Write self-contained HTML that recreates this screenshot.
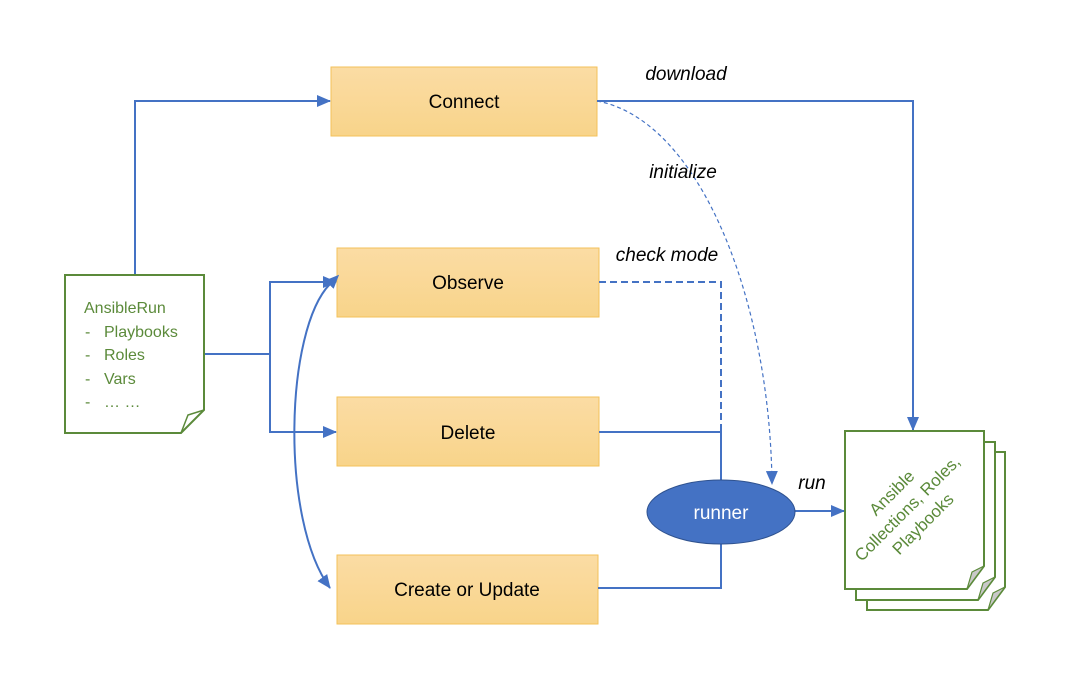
<!DOCTYPE html>
<html><head><style>body{margin:0;background:#fff}svg{display:block}</style></head><body>
<svg width="1066" height="694" viewBox="0 0 1066 694" xmlns="http://www.w3.org/2000/svg" font-family="Liberation Sans, sans-serif">
<defs>
<linearGradient id="g" x1="0" y1="0" x2="0" y2="1"><stop offset="0" stop-color="#fbdca4"/><stop offset="1" stop-color="#f8d48a"/></linearGradient>
<marker id="a" viewBox="0 0 14 12" refX="13" refY="6" markerWidth="14" markerHeight="12" markerUnits="userSpaceOnUse" orient="auto"><path d="M0,0L14,6L0,12z" fill="#4472c4"/></marker>
<marker id="as" viewBox="0 0 14 12" refX="1" refY="6" markerWidth="14" markerHeight="12" markerUnits="userSpaceOnUse" orient="auto-start-reverse"><path d="M0,0L14,6L0,12z" fill="#4472c4"/></marker>
</defs>
<g fill="url(#g)" stroke="#f3c15a" stroke-width="1">
<rect x="331" y="67" width="266" height="69"/>
<rect x="337" y="248" width="262" height="69"/>
<rect x="337" y="397" width="262" height="69"/>
<rect x="337" y="555" width="261" height="69"/>
</g>
<g font-size="19" text-anchor="middle" fill="#000">
<text x="464" y="108">Connect</text>
<text x="468" y="289">Observe</text>
<text x="468" y="439">Delete</text>
<text x="467" y="596">Create or Update</text>
</g>
<g stroke="#4472c4" stroke-width="2" fill="none">
<path d="M135,275V101H330" marker-end="url(#a)"/>
<path d="M204,354H270V282H336" marker-end="url(#a)"/>
<path d="M270,354V432H336" marker-end="url(#a)"/>
<path d="M597,101H913V430" marker-end="url(#a)"/>
<path d="M599,432H721V480"/>
<path d="M598,588H721V544"/>
<path d="M795,511H844" marker-end="url(#a)"/>
<path d="M330,284C285,330 280,520 330,588" marker-start="url(#as)" marker-end="url(#a)"/>
<path d="M599,282H721V480" stroke-dasharray="7,4"/>
<path d="M597,101C700,120 770,300 772,484" stroke-width="1.2" stroke-dasharray="4,3" marker-end="url(#a)"/>
</g>
<ellipse cx="721" cy="512" rx="74" ry="32" fill="#4472c4" stroke="#2f528f" stroke-width="1"/>
<text x="721" y="519" font-size="19" fill="#fff" text-anchor="middle">runner</text>
<g font-size="19" font-style="italic" fill="#000" text-anchor="middle">
<text x="686" y="80">download</text>
<text x="683" y="178">initialize</text>
<text x="667" y="261">check mode</text>
<text x="812" y="489">run</text>
</g>
<path d="M65,275H204V410L181,433H65Z" fill="#fff" stroke="#5b8a3a" stroke-width="2"/>
<path d="M181,433L188,415L204,410" fill="none" stroke="#5b8a3a" stroke-width="1.5"/>
<g font-size="16" fill="#5b8a3a">
<text x="84" y="313">AnsibleRun</text>
<text x="85" y="337">-</text><text x="104" y="337">Playbooks</text>
<text x="85" y="360">-</text><text x="104" y="360">Roles</text>
<text x="85" y="384">-</text><text x="104" y="384">Vars</text>
<text x="85" y="407">-</text><text x="104" y="407">… …</text>
</g>
<g stroke="#5b8a3a" stroke-width="2" fill="#fff">
<path d="M867,452H1005V587L988,610H867Z"/>
<path d="M856,442H995V577L978,600H856Z"/>
<path d="M845,431H984V566L967,589H845Z"/>
</g>
<g fill="#c8c8c8" stroke="#5b8a3a" stroke-width="1.2">
<path d="M988,610L993,593L1005,587Z"/>
<path d="M978,600L983,583L995,577Z"/>
<path d="M967,589L972,572L984,566Z"/>
</g>
<g font-size="17" fill="#5b8a3a" text-anchor="middle" transform="translate(910,511) rotate(-45)">
<text x="0" y="-20">Ansible</text>
<text x="0" y="2">Collections, Roles,</text>
<text x="0" y="24">Playbooks</text>
</g>
</svg>
</body></html>
